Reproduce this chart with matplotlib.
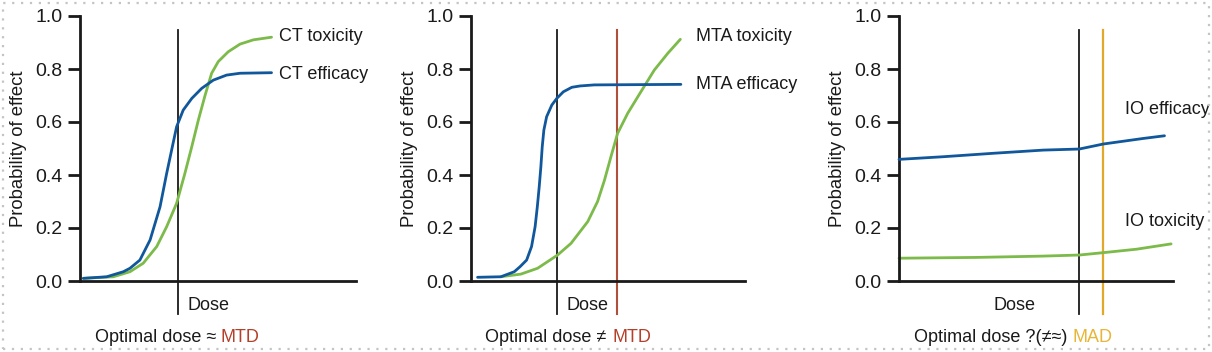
import matplotlib
matplotlib.use("Agg")
import matplotlib.pyplot as plt
from matplotlib.patches import Rectangle

plt.rcParams['font.family'] = ['Liberation Sans', 'DejaVu Sans']

# ---------------- data ----------------
# Panel 1: CT
ct_eff_x = [0.12, 0.97, 1.57, 1.81, 2.17, 2.54, 2.90, 3.14, 3.32, 3.50, 3.74, 4.05, 4.41, 4.83, 5.31, 5.80, 6.94]
ct_eff_y = [0.010, 0.016, 0.035, 0.048, 0.079, 0.155, 0.28, 0.406, 0.494, 0.582, 0.645, 0.689, 0.727, 0.758, 0.777, 0.784, 0.786]
ct_tox_x = [0.12, 1.21, 1.81, 2.29, 2.78, 3.14, 3.50, 3.80, 4.05, 4.29, 4.53, 4.77, 5.01, 5.37, 5.80, 6.28, 6.94]
ct_tox_y = [0.010, 0.016, 0.035, 0.067, 0.13, 0.205, 0.293, 0.406, 0.507, 0.608, 0.70, 0.784, 0.828, 0.865, 0.894, 0.910, 0.920]
ct_vline = 3.55

# Panel 2: MTA
mta_eff_x = [0.24, 1.09, 1.58, 1.79, 2.03, 2.21, 2.34, 2.42, 2.49, 2.55, 2.60, 2.66, 2.76, 2.95, 3.13, 3.37, 3.68, 3.98, 4.50, 7.66]
mta_eff_y = [0.014, 0.016, 0.035, 0.054, 0.079, 0.13, 0.205, 0.28, 0.356, 0.431, 0.507, 0.57, 0.62, 0.664, 0.689, 0.714, 0.731, 0.736, 0.740, 0.742]
mta_tox_x = [1.09, 1.82, 2.43, 3.16, 3.65, 4.26, 4.62, 4.87, 5.11, 5.35, 5.72, 6.20, 6.69, 7.18, 7.64]
mta_tox_y = [0.016, 0.026, 0.048, 0.098, 0.142, 0.224, 0.30, 0.38, 0.47, 0.557, 0.633, 0.714, 0.796, 0.859, 0.912]
mta_vline_opt = 3.14
mta_vline_mtd = 5.33

# Panel 3: IO
io_eff_x = [0.0, 1.62, 3.45, 5.27, 6.58, 7.46, 8.92, 9.69]
io_eff_y = [0.459, 0.469, 0.482, 0.494, 0.498, 0.517, 0.538, 0.548]
io_tox_x = [0.0, 2.83, 5.27, 6.58, 7.46, 8.67, 9.93]
io_tox_y = [0.086, 0.089, 0.094, 0.098, 0.107, 0.12, 0.14]
io_vline_opt = 6.57
io_vline_mad = 7.45

yticks = [0.0, 0.2, 0.4, 0.6, 0.8, 1.0]
ytick_labels = ["0.0", "0.2", "0.4", "0.6", "0.8", "1.0"]

# ---------------- style ----------------
BLUE = "#10579c"
GREEN = "#7cba4a"
RED = "#b0503a"
RED_TXT = "#b5402a"
GOLD = "#e2a82a"
GOLD_TXT = "#e8b536"
BLACK = "#1a1a1a"
FS = 13

W, H = 1212, 352
fig = plt.figure(figsize=(W / 100, H / 100), dpi=100)

def px_axes(x0, x1, ytop=16, ybot=281):
    return fig.add_axes([x0 / W, 1 - ybot / H, (x1 - x0) / W, (ybot - ytop) / H])

panels = [(80, 356), (471, 745), (899, 1173)]
axes = [px_axes(a, b) for a, b in panels]

for ax in axes:
    ax.set_xlim(0, 10)
    ax.set_ylim(0, 1)
    for s in ["top", "right"]:
        ax.spines[s].set_visible(False)
    for s in ["left", "bottom"]:
        ax.spines[s].set_linewidth(2.0)
        ax.spines[s].set_color(BLACK)
    ax.set_xticks([])
    ax.set_yticks(yticks)
    ax.set_yticklabels(ytick_labels)
    ax.tick_params(axis="y", direction="out", length=9, width=2.0, pad=3.5,
                   labelsize=14, colors=BLACK)
    ax.set_ylabel("Probability of effect", fontsize=13.3, color=BLACK, labelpad=6)
    ax.patch.set_alpha(0)

def vline(ax, x, color, lw=1.3):
    ax.plot([x, x], [-0.125, 0.947], color=color, lw=lw, clip_on=False, zorder=1)

def curve(ax, xs, ys, color, z):
    ax.plot(xs, ys, color=color, lw=2.0, clip_on=False, zorder=z,
            solid_joinstyle="round", solid_capstyle="round")

# Panel 1
ax = axes[0]
vline(ax, ct_vline, BLACK)
curve(ax, ct_tox_x, ct_tox_y, GREEN, 2)
curve(ax, ct_eff_x, ct_eff_y, BLUE, 3)
ax.text(7.21, 0.921, "CT toxicity", fontsize=FS, va="center", ha="left", color=BLACK)
ax.text(7.21, 0.781, "CT efficacy", fontsize=FS, va="center", ha="left", color=BLACK)
ax.text(3.91, -0.094, "Dose", fontsize=FS, va="center", ha="left", color=BLACK)

# Panel 2
ax = axes[1]
vline(ax, mta_vline_opt, BLACK)
vline(ax, mta_vline_mtd, RED, lw=1.5)
curve(ax, mta_tox_x, mta_tox_y, GREEN, 2)
curve(ax, mta_eff_x, mta_eff_y, BLUE, 3)
ax.text(8.21, 0.921, "MTA toxicity", fontsize=FS, va="center", ha="left", color=BLACK)
ax.text(8.21, 0.743, "MTA efficacy", fontsize=FS, va="center", ha="left", color=BLACK)
ax.text(3.47, -0.094, "Dose", fontsize=FS, va="center", ha="left", color=BLACK)

# Panel 3
ax = axes[2]
vline(ax, io_vline_opt, BLACK)
vline(ax, io_vline_mad, GOLD, lw=1.6)
curve(ax, io_tox_x, io_tox_y, GREEN, 2)
curve(ax, io_eff_x, io_eff_y, BLUE, 3)
ax.text(8.25, 0.649, "IO efficacy", fontsize=FS, va="center", ha="left", color=BLACK)
ax.text(8.25, 0.223, "IO toxicity", fontsize=FS, va="center", ha="left", color=BLACK)
ax.text(4.2, -0.094, "Dose", fontsize=FS, va="center", ha="center", color=BLACK)

# Bottom captions (two-colour)
yc = 1 - 338 / H
caps = [("Optimal dose \u2248", "MTD", RED_TXT, 216, 221),
        ("Optimal dose \u2260", "MTD", RED_TXT, 606, 612),
        ("Optimal dose ?(\u2260\u2248)", "MAD", GOLD_TXT, 1067, 1072)]
for left, right, col, xr, xl in caps:
    fig.text(xr / W, yc, left, ha="right", va="center", fontsize=FS, color=BLACK)
    fig.text(xl / W, yc, right, ha="left", va="center", fontsize=FS, color=col)

# Dotted frame
fig.patches.append(Rectangle((3 / W, 3 / H), (W - 6) / W, (H - 6) / H,
                             transform=fig.transFigure, fill=False,
                             edgecolor="#c4c4c4", lw=1.6, linestyle=(0, (1, 3))))

fig.savefig("out.png", dpi=100)
